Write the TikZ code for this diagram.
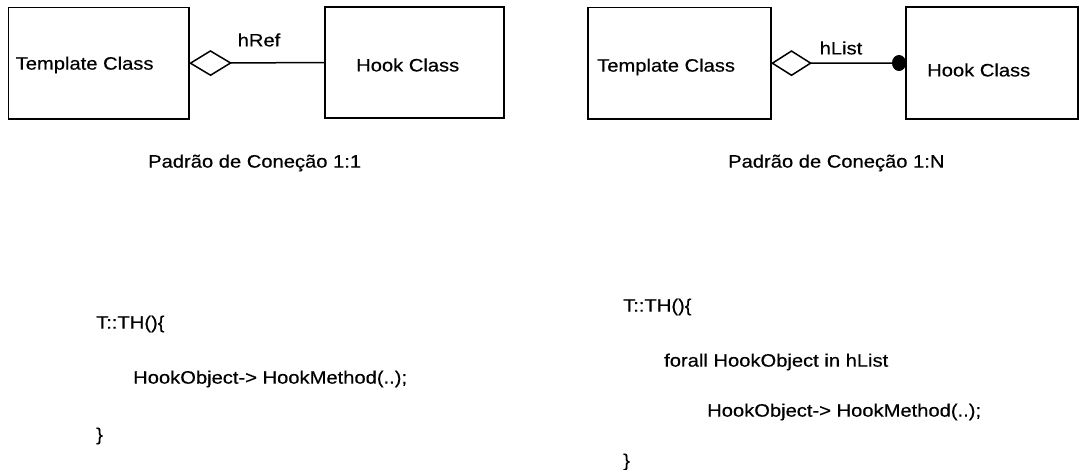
\documentclass[tikz,border=0pt]{standalone}
\usepackage{fontspec}
\setmainfont[FakeStretch=1.12, FakeBold=0.4]{Liberation Sans}
\usetikzlibrary{arrows.meta}
\begin{document}
\begin{tikzpicture}[x=1pt,y=-1pt,
  box/.style={draw, line width=1.7pt, inner sep=0pt, outer sep=0pt},
  txt/.style={inner sep=0pt, anchor=west, font=\fontsize{18}{20}\selectfont},
  lbl/.style={inner sep=0pt, font=\fontsize{18}{20}\selectfont},
  assoc/.style={line width=1.5pt},
]
\useasboundingbox (0,0) rectangle (1080,470);
% left pattern
\node[box, minimum width=180.4pt, minimum height=111.5pt] (tc1) at (98.8,63.2) {};
\node[box, minimum width=179pt, minimum height=111pt] (hc1) at (414.5,62.5) {};
\node[txt] (tt1) at (15.5,65) {Template Class};
\node[txt] (ht1) at (356,65) {Hook Class};
\draw[assoc, {Diamond[open, length=43pt, width=26pt]}-] (tc1.east) -- (hc1.west);
\node[lbl] (href) at (259,40) {hRef};
\node[txt] (cap1) at (148,163) {Padrão de Coneção 1:1};
% right pattern
\node[box, minimum width=183pt, minimum height=111.5pt] (tc2) at (679.5,63.2) {};
\node[box, minimum width=172pt, minimum height=112pt] (hc2) at (992,63) {};
\node[txt] (tt2) at (597,67) {Template Class};
\node[txt] (ht2) at (927,70) {Hook Class};
\draw[assoc, {Diamond[open, length=41pt, width=26pt]}-{Circle[length=14pt, width=16pt]}] (tc2.east) -- (hc2.west);
\node[lbl] (hlist) at (841,48) {hList};
\node[txt] (cap2) at (728,163) {Padrão de Coneção 1:N};
% code left
\node[txt] (c1a) at (96,324) {T::TH()\{};
\node[txt] (c1b) at (133,379) {HookObject-> HookMethod(..);};
\node[txt] (c1c) at (96,436) {\}};
% code right
\node[txt] (c2a) at (623,307) {T::TH()\{};
\node[txt] (c2b) at (664,362) {forall HookObject in hList};
\node[txt] (c2c) at (707,412) {HookObject-> HookMethod(..);};
\node[txt] (c2d) at (623,462) {\}};
\end{tikzpicture}
\end{document}
